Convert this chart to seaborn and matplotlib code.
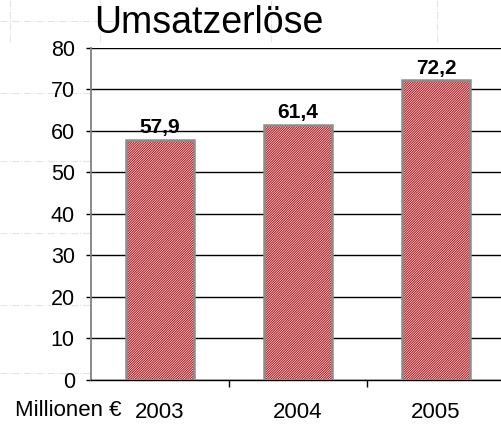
import matplotlib
matplotlib.use("Agg")
import matplotlib.pyplot as plt
import seaborn as sns
from matplotlib.patches import Rectangle

# =========================
# Data
# =========================
years = ["2003", "2004", "2005"]
umsatz = [57.9, 61.4, 72.2]
value_labels = ["57,9", "61,4", "72,2"]
y_ticks = [0, 10, 20, 30, 40, 50, 60, 70, 80]

# =========================
# Figure
# =========================
sns.set_theme(style="white")
plt.rcParams['font.family'] = ['Liberation Sans', 'DejaVu Sans']
plt.rcParams['hatch.linewidth'] = 0.8

fig = plt.figure(figsize=(5.02, 4.24), dpi=100)
ax = fig.add_axes([0.181, 0.104, 0.825, 0.783])

# faint spreadsheet cell lines in the background
for yy in [0.95, 0.78, 0.62, 0.45, 0.28, 0.12]:
    fig.add_artist(plt.Line2D([0.0, 0.24], [yy, yy], color="#e4e4e4", lw=0.8,
                              ls="-.", zorder=0))
for xx in [0.02, 0.20, 0.54, 0.87]:
    fig.add_artist(plt.Line2D([xx, xx], [0.9, 1.0], color="#e4e4e4", lw=0.8,
                              ls="-.", zorder=0))

sns.barplot(x=years, y=umsatz, color="white", width=0.49, ax=ax,
            edgecolor="#b01e24", hatch="//////////////", linewidth=0,
            zorder=3)

# grey outline on top of each hatched bar
for p in list(ax.patches):
    ax.add_patch(Rectangle(p.get_xy(), p.get_width(), p.get_height(),
                           fill=False, edgecolor="#8c8c8c", lw=1.8, zorder=4))

ax.bar_label(ax.containers[0], labels=value_labels, padding=2,
             fontsize=15, fontweight="bold", color="black")

# =========================
# Axes styling
# =========================
ax.set_ylim(0, 80)
ax.set_xlim(-0.5, 2.5)
ax.set_yticks(y_ticks)
ax.yaxis.grid(True, color="black", lw=1.0)
ax.set_axisbelow(True)
ax.tick_params(axis="y", left=True, length=3.6, width=1, color="black",
               pad=8, labelsize=15.5, labelcolor="black")
ax.tick_params(axis="x", which="major", length=0, pad=16, labelsize=16,
               labelcolor="black")
ax.set_xticks([0.5, 1.5], minor=True)
ax.tick_params(axis="x", which="minor", bottom=True, length=5, width=1,
               color="black")

for side in ["top", "right"]:
    ax.spines[side].set_visible(False)
ax.spines["left"].set_color("#808080")
ax.spines["left"].set_linewidth(1.3)
ax.spines["bottom"].set_color("black")
ax.spines["bottom"].set_linewidth(1.0)
ax.set_xlabel("")
ax.set_ylabel("")

fig.text(0.187, 0.922, "Umsatzerlöse", fontsize=27, color="black",
         ha="left", va="baseline")
fig.text(0.03, 0.019, "Millionen €", fontsize=16, color="black",
         ha="left", va="baseline")

plt.savefig("out.png", dpi=100)
